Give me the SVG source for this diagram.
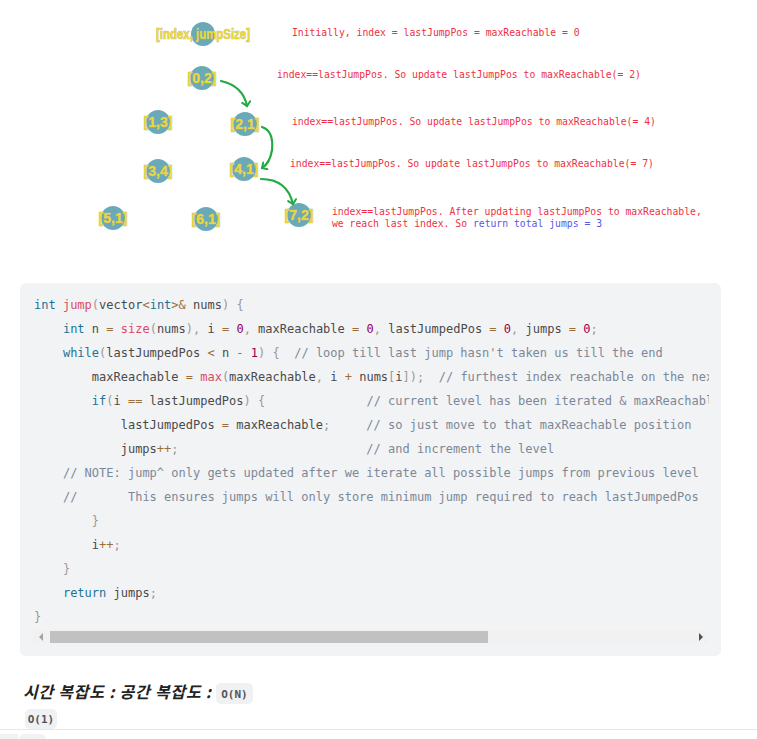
<svg xmlns="http://www.w3.org/2000/svg" width="757" height="739" viewBox="0 0 757 739">
<style>
.nd{fill:#6aa9b7}
.nt{font-family:"Liberation Sans Narrow","Liberation Sans",sans-serif;font-weight:bold;font-size:14px;fill:#ecd63a;stroke:#b9bb8a;stroke-width:0.7px;paint-order:stroke;text-anchor:middle}
.an{font-family:"DejaVu Sans Mono",monospace;font-size:9.75px;fill:#f0303f}
.bl{fill:#5a56e0}
.ar{fill:none;stroke:#22aa44;stroke-width:2.2;stroke-linecap:round}
.cd{font-family:"DejaVu Sans Mono",monospace;font-size:12px;fill:#4a4a4a;white-space:pre}
.k{fill:#1a7396}.f{fill:#dd4a68}.n{fill:#990055}.o{fill:#9a6e3a}.p{fill:#999}.c{fill:#7c8898}
</style>
<defs>
<marker id="ah" markerWidth="10" markerHeight="10" refX="5" refY="5" orient="auto" markerUnits="userSpaceOnUse">
<path d="M1,1 L5,5 L1,9" fill="none" stroke="#22aa44" stroke-width="2" stroke-linecap="round"/>
</marker>
<clipPath id="cc"><rect x="20" y="283" width="689" height="340"/></clipPath>
</defs>
<rect width="757" height="739" fill="#fff"/>

<g id="legend"><circle class="nd" cx="203" cy="34" r="12"/><text class="nt" x="203" y="39" textLength="94" lengthAdjust="spacingAndGlyphs">[index, jumpSize]</text></g>
<g id="n02"><circle class="nd" cx="202" cy="78" r="12"/><text class="nt" x="202" y="83">[0,2]</text></g>
<g id="n13"><circle class="nd" cx="158" cy="122" r="12"/><text class="nt" x="158" y="127">[1,3]</text></g>
<g id="n21"><circle class="nd" cx="245" cy="124" r="12"/><text class="nt" x="245" y="129">[2,1]</text></g>
<g id="n34"><circle class="nd" cx="158" cy="171" r="12"/><text class="nt" x="158" y="176">[3,4]</text></g>
<g id="n41"><circle class="nd" cx="244" cy="169" r="12"/><text class="nt" x="244" y="174">[4,1]</text></g>
<g id="n51"><circle class="nd" cx="113" cy="218" r="12"/><text class="nt" x="113" y="223">[5,1]</text></g>
<g id="n61"><circle class="nd" cx="206" cy="219" r="12"/><text class="nt" x="206" y="224">[6,1]</text></g>
<g id="n72"><circle class="nd" cx="299" cy="215" r="12"/><text class="nt" x="299" y="220">[7,2]</text></g>

<g id="connectors">
<path class="ar" d="M221,81 Q243,86 247,106" marker-end="url(#ah)"/>
<path class="ar" d="M262,127 Q274,131 272,150 Q270,163 262,168" marker-end="url(#ah)"/>
<path class="ar" d="M261,179 Q287,179 293,204" marker-end="url(#ah)"/>
</g>

<g id="notes">
<text class="an" x="292" y="36">Initially, index = lastJumpPos = maxReachable = 0</text>
<text class="an" x="277" y="78">index==lastJumpPos. So update lastJumpPos to maxReachable(= 2)</text>
<text class="an" x="292" y="125">index==lastJumpPos. So update lastJumpPos to maxReachable(= 4)</text>
<text class="an" x="290" y="167">index==lastJumpPos. So update lastJumpPos to maxReachable(= 7)</text>
<text class="an" x="332" y="215">index==lastJumpPos. After updating lastJumpPos to maxReachable,</text>
<text class="an" x="332" y="227">we reach last index. So <tspan class="bl">return total jumps = 3</tspan></text>
</g>

<g id="code">
<rect x="20" y="283" width="701" height="373" rx="6" fill="#f2f3f5"/>
<g clip-path="url(#cc)">
<text class="cd" x="34" y="309"><tspan class="k">int</tspan> <tspan class="f">jump</tspan><tspan class="p">(</tspan>vector<tspan class="o">&lt;</tspan><tspan class="k">int</tspan><tspan class="o">&gt;</tspan><tspan class="o">&amp;</tspan> nums<tspan class="p">)</tspan> <tspan class="p">{</tspan></text>
<text class="cd" x="34" y="333">    <tspan class="k">int</tspan> n <tspan class="o">=</tspan> <tspan class="f">size</tspan><tspan class="p">(</tspan>nums<tspan class="p">),</tspan> i <tspan class="o">=</tspan> <tspan class="n">0</tspan><tspan class="p">,</tspan> maxReachable <tspan class="o">=</tspan> <tspan class="n">0</tspan><tspan class="p">,</tspan> lastJumpedPos <tspan class="o">=</tspan> <tspan class="n">0</tspan><tspan class="p">,</tspan> jumps <tspan class="o">=</tspan> <tspan class="n">0</tspan><tspan class="p">;</tspan></text>
<text class="cd" x="34" y="357">    <tspan class="k">while</tspan><tspan class="p">(</tspan>lastJumpedPos <tspan class="o">&lt;</tspan> n <tspan class="o">-</tspan> <tspan class="n">1</tspan><tspan class="p">)</tspan> <tspan class="p">{</tspan>  <tspan class="c">// loop till last jump hasn't taken us till the end</tspan></text>
<text class="cd" x="34" y="381">        maxReachable <tspan class="o">=</tspan> <tspan class="f">max</tspan><tspan class="p">(</tspan>maxReachable<tspan class="p">,</tspan> i <tspan class="o">+</tspan> nums<tspan class="p">[</tspan>i<tspan class="p">]);</tspan>  <tspan class="c">// furthest index reachable on the nex</tspan></text>
<text class="cd" x="34" y="405">        <tspan class="k">if</tspan><tspan class="p">(</tspan>i <tspan class="o">==</tspan> lastJumpedPos<tspan class="p">)</tspan> <tspan class="p">{</tspan>              <tspan class="c">// current level has been iterated &amp; maxReachabl</tspan></text>
<text class="cd" x="34" y="429">            lastJumpedPos <tspan class="o">=</tspan> maxReachable<tspan class="p">;</tspan>     <tspan class="c">// so just move to that maxReachable position</tspan></text>
<text class="cd" x="34" y="453">            jumps<tspan class="o">++</tspan><tspan class="p">;</tspan>                          <tspan class="c">// and increment the level</tspan></text>
<text class="cd" x="34" y="477">    <tspan class="c">// NOTE: jump^ only gets updated after we iterate all possible jumps from previous level</tspan></text>
<text class="cd" x="34" y="501">    <tspan class="c">//       This ensures jumps will only store minimum jump required to reach lastJumpedPos</tspan></text>
<text class="cd" x="34" y="525">        <tspan class="p">}</tspan></text>
<text class="cd" x="34" y="549">        i<tspan class="o">++</tspan><tspan class="p">;</tspan></text>
<text class="cd" x="34" y="573">    <tspan class="p">}</tspan></text>
<text class="cd" x="34" y="597">    <tspan class="k">return</tspan> jumps<tspan class="p">;</tspan></text>
<text class="cd" x="34" y="621"><tspan class="p">}</tspan></text>
</g>
<rect x="33" y="630" width="675" height="13" fill="#f1f1f1"/>
<rect x="50" y="631" width="438" height="12" fill="#c1c1c1"/>
<path d="M39,637 L43,633 L43,641 Z" fill="#a3a3a3"/>
<path d="M703,637 L699,633 L699,641 Z" fill="#505050"/>
</g>

<g id="footer">
<text x="23" y="698" textLength="188" lengthAdjust="spacing" font-family="'Noto Sans CJK KR',sans-serif" font-weight="bold" font-style="italic" font-size="16" fill="#222">시간 복잡도 : 공간 복잡도 :</text>
<rect x="216" y="683" width="37" height="21" rx="5" fill="#f0f1f3"/>
<text x="234.5" y="698" text-anchor="middle" font-family="'DejaVu Sans Mono',monospace" font-weight="bold" font-size="11" fill="#555">O(N)</text>
<rect x="25" y="709" width="32" height="20" rx="5" fill="#f0f1f3"/>
<text x="41" y="723" text-anchor="middle" font-family="'DejaVu Sans Mono',monospace" font-weight="bold" font-size="11" fill="#555">O(1)</text>
<line x1="0" y1="729.5" x2="757" y2="729.5" stroke="#e8e8e8"/>
<rect x="0" y="734" width="18" height="10" fill="#f2f2f2"/>
<rect x="19" y="734" width="27" height="10" rx="5" fill="#f2f2f2"/>
</g>
</svg>
